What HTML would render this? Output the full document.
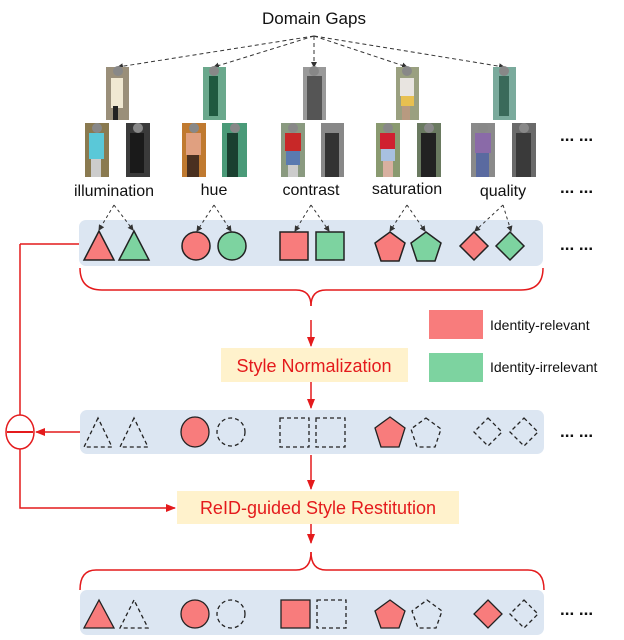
<!DOCTYPE html>
<html><head><meta charset="utf-8"><style>
html,body{margin:0;padding:0;background:#fff;width:624px;height:640px;overflow:hidden}
svg{display:block}
text{font-family:"Liberation Sans",sans-serif}
</style></head><body>
<svg width="624" height="640" viewBox="0 0 624 640" xmlns="http://www.w3.org/2000/svg">
<defs>
<marker id="ak" markerWidth="6" markerHeight="6" refX="5" refY="3" orient="auto" markerUnits="userSpaceOnUse"><path d="M0,0 L6,3 L0,6 z" fill="#333"/></marker>
<marker id="ar" markerWidth="10" markerHeight="10" refX="9" refY="5" orient="auto" markerUnits="userSpaceOnUse"><path d="M0,1 L10,5 L0,9 z" fill="#e41a1c"/></marker>
</defs>
<text x="314" y="24" font-size="17" text-anchor="middle" fill="#111">Domain Gaps</text>
<g stroke="#333" stroke-width="1" stroke-dasharray="4,3" fill="none" marker-end="url(#ak)">
<line x1="314" y1="36" x2="118" y2="67"/>
<line x1="314" y1="36" x2="214" y2="67"/>
<line x1="314" y1="36" x2="314" y2="67"/>
<line x1="314" y1="36" x2="407" y2="67"/>
<line x1="314" y1="36" x2="504" y2="67"/>
</g>
<g>
<rect x="106" y="67" width="23" height="53" fill="#9a8f7a"/><rect x="111" y="78" width="12" height="30" fill="#f0e8d2"/><rect x="113" y="106" width="5" height="14" fill="#222"/>
<rect x="203" y="67" width="23" height="53" fill="#6aa88c"/><rect x="209" y="76" width="9" height="40" fill="#1f5a40"/>
<rect x="303" y="67" width="23" height="53" fill="#999"/><rect x="307" y="76" width="15" height="44" fill="#555"/>
<rect x="396" y="67" width="23" height="53" fill="#9aa080"/><rect x="400" y="78" width="14" height="18" fill="#e8e4e0"/><rect x="401" y="96" width="13" height="10" fill="#e8c050"/><rect x="402" y="106" width="8" height="14" fill="#b89a80"/>
<rect x="493" y="67" width="23" height="53" fill="#7aaa9c"/><rect x="499" y="76" width="10" height="40" fill="#3a6a5a"/>
<circle cx="118" cy="71" r="5" fill="#888"/><circle cx="214" cy="71" r="5" fill="#888"/><circle cx="314" cy="71" r="5" fill="#888"/><circle cx="407" cy="71" r="5" fill="#888"/><circle cx="504" cy="71" r="5" fill="#888"/>
</g>
<g>
<rect x="85" y="123" width="24" height="54" fill="#8a7a50"/><rect x="89" y="133" width="15" height="26" fill="#5ac8d8"/><rect x="91" y="159" width="10" height="18" fill="#ccc"/>
<rect x="126" y="123" width="24" height="54" fill="#3a3a3a"/><rect x="130" y="133" width="14" height="40" fill="#1a1a1a"/>
<rect x="182" y="123" width="24" height="54" fill="#c07a30"/><rect x="186" y="133" width="15" height="22" fill="#e0a080"/><rect x="187" y="155" width="12" height="22" fill="#4a3020"/>
<rect x="222" y="123" width="25" height="54" fill="#4a9a78"/><rect x="227" y="133" width="11" height="44" fill="#1a4030"/>
<rect x="281" y="123" width="24" height="54" fill="#8a9a80"/><rect x="285" y="133" width="16" height="18" fill="#c82828"/><rect x="286" y="151" width="14" height="14" fill="#5a7ab0"/><rect x="288" y="165" width="10" height="12" fill="#ccc"/>
<rect x="321" y="123" width="23" height="54" fill="#888"/><rect x="325" y="133" width="14" height="44" fill="#333"/>
<rect x="376" y="123" width="24" height="54" fill="#8a9a70"/><rect x="380" y="133" width="15" height="16" fill="#d02030"/><rect x="381" y="149" width="14" height="12" fill="#a8c0e0"/><rect x="383" y="161" width="10" height="16" fill="#d8b0a0"/>
<rect x="417" y="123" width="24" height="54" fill="#6a7a60"/><rect x="421" y="133" width="15" height="44" fill="#222"/>
<rect x="471" y="123" width="24" height="54" fill="#8a8a8a"/><rect x="475" y="133" width="16" height="20" fill="#8a6aa8"/><rect x="476" y="153" width="13" height="24" fill="#5a6aa0"/>
<rect x="512" y="123" width="24" height="54" fill="#6a6a6a"/><rect x="516" y="133" width="15" height="44" fill="#3a3a3a"/>
<circle cx="97" cy="128" r="5" fill="#888"/><circle cx="138" cy="128" r="5" fill="#888"/><circle cx="194" cy="128" r="5" fill="#888"/><circle cx="235" cy="128" r="5" fill="#888"/><circle cx="293" cy="128" r="5" fill="#888"/><circle cx="333" cy="128" r="5" fill="#888"/><circle cx="388" cy="128" r="5" fill="#888"/><circle cx="429" cy="128" r="5" fill="#888"/><circle cx="483" cy="128" r="5" fill="#888"/><circle cx="524" cy="128" r="5" fill="#888"/>
</g>
<g font-size="16" fill="#111" text-anchor="middle">
<text x="114" y="196">illumination</text><text x="214" y="195">hue</text><text x="311" y="195">contrast</text><text x="407" y="194">saturation</text><text x="503" y="196">quality</text>
</g>
<g font-size="17" font-weight="bold" fill="#111">
<text x="560" y="141">... ...</text><text x="560" y="193">... ...</text><text x="560" y="250">... ...</text><text x="560" y="437">... ...</text><text x="560" y="615">... ...</text>
</g>
<rect x="79" y="220" width="464" height="46" rx="7" fill="#dce6f2"/>
<rect x="80" y="410" width="464" height="44" rx="7" fill="#dce6f2"/>
<rect x="80" y="590" width="464" height="45" rx="7" fill="#dce6f2"/>
<g stroke="#333" stroke-width="1" stroke-dasharray="3,3" fill="none" marker-end="url(#ak)">
<line x1="114" y1="205" x2="99" y2="230"/><line x1="114" y1="205" x2="133" y2="230"/>
<line x1="214" y1="205" x2="197" y2="231"/><line x1="214" y1="205" x2="231" y2="231"/>
<line x1="311" y1="205" x2="295" y2="231"/><line x1="311" y1="205" x2="329" y2="231"/>
<line x1="407" y1="205" x2="390" y2="231"/><line x1="407" y1="205" x2="425" y2="231"/>
<line x1="503" y1="205" x2="475" y2="231"/><line x1="503" y1="205" x2="511" y2="231"/>
</g>
<g stroke="#222" stroke-width="1.5">
<polygon points="99,231 84,260 114,260" fill="#f87c7c"/>
<polygon points="134,231 119,260 149,260" fill="#7dd3a0"/>
<circle cx="196" cy="246" r="14" fill="#f87c7c"/><circle cx="232" cy="246" r="14" fill="#7dd3a0"/>
<rect x="280" y="232" width="28" height="28" fill="#f87c7c"/><rect x="316" y="232" width="28" height="28" fill="#7dd3a0"/>
<polygon points="390,232 405,243 399,261 381,261 375,243" fill="#f87c7c"/>
<polygon points="426,232 441,243 435,261 417,261 411,243" fill="#7dd3a0"/>
<polygon points="474,232 488,246 474,260 460,246" fill="#f87c7c"/>
<polygon points="510,232 524,246 510,260 496,246" fill="#7dd3a0"/>
</g>
<g stroke="#222" stroke-width="1.3">
<g fill="none" stroke-dasharray="4,3">
<polygon points="98,418 84,447 112,447"/><polygon points="134,418 120,447 148,447"/>
<circle cx="231" cy="432" r="14"/>
<rect x="280" y="418" width="29" height="29"/><rect x="316" y="418" width="29" height="29"/>
<polygon points="426,418 441,429 435,447 417,447 411,429"/>
<polygon points="488,418 502,432 488,446 474,432"/><polygon points="524,418 538,432 524,446 510,432"/>
</g>
<ellipse cx="195" cy="432" rx="14" ry="15" fill="#f87c7c"/>
<polygon points="390,417 405,428 399,447 381,447 375,428" fill="#f87c7c"/>
</g>
<g stroke="#222" stroke-width="1.3">
<polygon points="99,600 84,628 114,628" fill="#f87c7c"/>
<circle cx="195" cy="614" r="14" fill="#f87c7c"/>
<rect x="281" y="600" width="29" height="28" fill="#f87c7c"/>
<polygon points="390,600 405,611 399,628 381,628 375,611" fill="#f87c7c"/>
<polygon points="488,600 502,614 488,628 474,614" fill="#f87c7c"/>
<g fill="none" stroke-dasharray="4,3">
<polygon points="134,600 120,628 148,628"/>
<circle cx="231" cy="614" r="14"/>
<rect x="317" y="600" width="29" height="28"/>
<polygon points="427,600 442,611 436,628 418,628 412,611"/>
<polygon points="524,600 538,614 524,628 510,614"/>
</g>
</g>
<g stroke="#e41a1c" stroke-width="1.5" fill="none">
<path d="M80,268 Q80,290 102,290 L296,290 Q311,290 311,306"/>
<path d="M543,268 Q543,290 521,290 L326,290 Q311,290 311,306"/>
<line x1="311" y1="320" x2="311" y2="346" marker-end="url(#ar)"/>
<line x1="311" y1="382" x2="311" y2="408" marker-end="url(#ar)"/>
<line x1="311" y1="455" x2="311" y2="489" marker-end="url(#ar)"/>
<line x1="311" y1="524" x2="311" y2="543" marker-end="url(#ar)"/>
<path d="M311,552 Q311,570 296,570 L96,570 Q80,570 80,590"/>
<path d="M311,552 Q311,570 326,570 L528,570 Q544,570 544,590"/>
<line x1="79" y1="244" x2="20" y2="244"/>
<line x1="20" y1="244" x2="20" y2="415"/>
<ellipse cx="20" cy="432" rx="14" ry="17"/>
<line x1="80" y1="432" x2="36" y2="432" marker-end="url(#ar)"/>
<polyline points="20,449 20,508 175,508" marker-end="url(#ar)"/>
</g>
<rect x="7" y="431" width="26" height="2" fill="#e41a1c"/>
<rect x="221" y="348" width="187" height="34" fill="#fff2cc"/>
<text x="314" y="372" font-size="18" fill="#e41a1c" text-anchor="middle">Style Normalization</text>
<rect x="177" y="491" width="282" height="33" fill="#fff2cc"/>
<text x="318" y="514" font-size="18" fill="#e41a1c" text-anchor="middle">ReID-guided Style Restitution</text>
<rect x="429" y="310" width="54" height="29" fill="#f87c7c"/>
<rect x="429" y="353" width="54" height="29" fill="#7dd3a0"/>
<text x="490" y="330" font-size="14" fill="#111">Identity-relevant</text>
<text x="490" y="372" font-size="14" fill="#111">Identity-irrelevant</text>
</svg>
</body></html>
